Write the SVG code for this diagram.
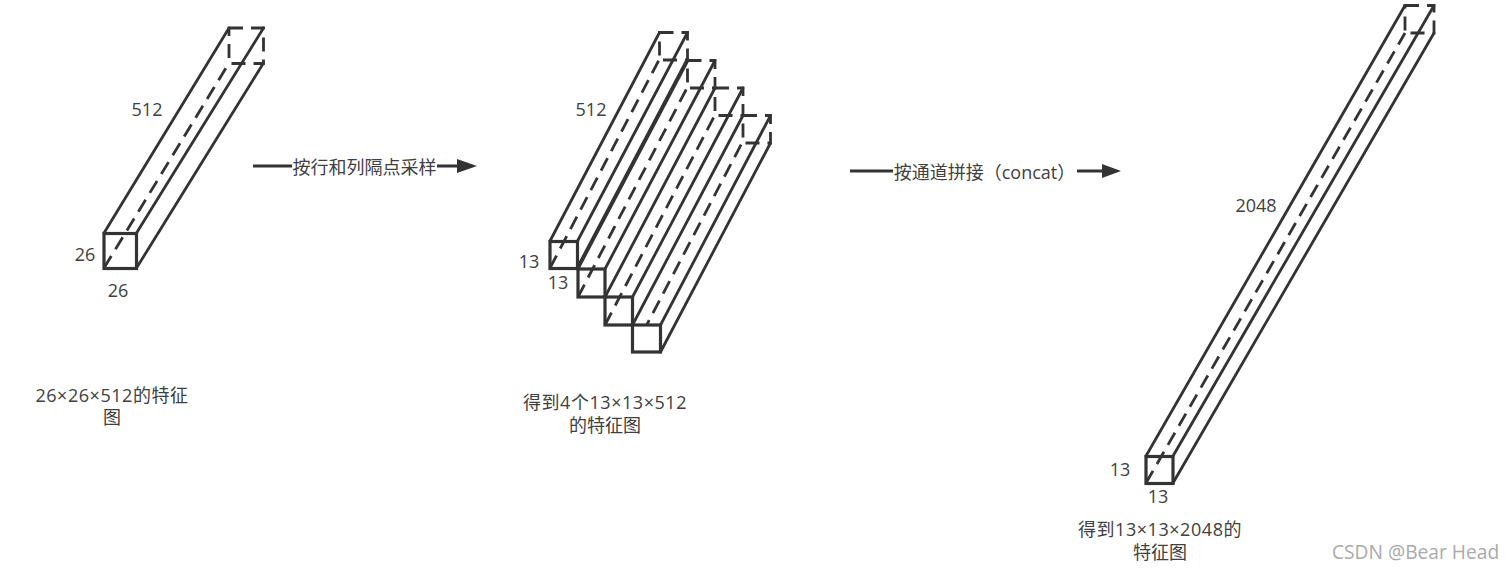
<svg xmlns="http://www.w3.org/2000/svg" width="1512" height="571" viewBox="0 0 1512 571">
<style>
text{font-family:"Open Sans","Noto Sans CJK SC",sans-serif;font-size:18px;fill:#404040;text-anchor:middle}
.c{letter-spacing:.55px}
.e{fill:none;stroke:#333;stroke-width:2.8;stroke-linecap:round}
.t{fill:none;stroke:#333;stroke-width:4;stroke-linecap:round}
.f{fill:none;stroke:#333;stroke-width:3.2}
.w{fill:#fff;stroke:#333;stroke-width:3.2}
.d{fill:none;stroke:#333;stroke-width:2.8;stroke-dasharray:14 8}
.a{fill:none;stroke:#333;stroke-width:2.8}
.h{fill:#333}
.m{fill:#aaa;font-size:19.200px;text-anchor:start}
</style>
<rect width="1512" height="571" fill="#fff"/>
<g id="connectors">
<path class="a" d="M253 166H292M437 166H460"/>
<path class="h" d="M457 159L477 166L457 173Z"/>
<path class="a" d="M850 171H893M1077 171H1105"/>
<path class="h" d="M1102 164L1121 171L1102 178Z"/>
</g>
<g id="cuboid-26-26-512">
<rect class="d" x="229" y="28" width="34.500" height="35.500"/>
<path class="d" d="M104 268L229 63"/>
<path class="e" d="M104 233L229 28M136.500 233L263.500 28M136.500 268L263.500 63"/>
<rect class="f" x="104" y="233.500" width="32.500" height="35"/>
<text x="147" y="116">512</text>
<text x="85" y="261">26</text>
<text x="118" y="297">26</text>
<text class="c" x="112" y="402">26×26×512的特征</text>
<text x="112" y="424">图</text>
</g>
<g id="cuboid-1">
<rect class="d" x="659.500" y="32.500" width="28" height="27.500"/>
<path class="d" d="M550 268L659 60"/>
<path class="e" d="M550 241L659.500 32.500M577.500 241L687.500 32.500"/>
<path class="t" d="M577.500 268.500L687.500 60"/>
<rect class="f" x="550" y="241.500" width="27.500" height="27"/>
</g>
<g id="cuboid-2">
<rect class="d" x="687.500" y="60.500" width="27.500" height="27.500"/>
<path class="d" d="M578 297L687 88"/>
<path class="e" d="M605 269L715 60.500M605 297L715 88"/>
<rect class="f" x="578" y="269" width="27" height="28"/>
</g>
<g id="cuboid-3">
<rect class="d" x="715" y="88" width="28" height="27.500"/>
<path class="d" d="M605 325L715 115"/>
<path class="e" d="M632.500 297L743 88M632.500 325L743 115.500"/>
<rect class="f" x="605" y="297" width="27.500" height="28"/>
</g>
<g id="cuboid-4">
<rect class="d" x="743" y="115.500" width="27.500" height="27.500"/>
<path class="d" d="M632.500 352L742 143"/>
<path class="e" d="M660.500 325L770.500 115.500M660.500 352L770.500 143"/>
<rect class="w" x="632.500" y="325" width="28" height="27"/>
</g>
<g id="group-labels">
<text x="591" y="116">512</text>
<text x="529" y="268">13</text>
<text x="558" y="289">13</text>
<text class="c" x="605" y="409">得到4个13×13×512</text>
<text x="605" y="432">的特征图</text>
</g>
<g id="cuboid-13-13-2048">
<rect class="d" x="1405" y="5.500" width="29" height="27.500"/>
<path class="d" d="M1146 483L1405 33"/>
<path class="e" d="M1146 456L1405 5.500M1173 456L1434 5.500M1173 483L1434 33"/>
<rect class="f" x="1146" y="456.500" width="27" height="27"/>
<text x="1256" y="212">2048</text>
<text x="1120" y="476">13</text>
<text x="1158" y="503">13</text>
<text class="c" x="1160" y="536">得到13×13×2048的</text>
<text x="1160" y="559">特征图</text>
</g>
<g id="arrow-labels">
<text x="364.500" y="174">按行和列隔点采样</text>
<text x="984.500" y="179">按通道拼接（concat）</text>
</g>
<text class="m" x="1332" y="559">CSDN @Bear Head</text>
</svg>
